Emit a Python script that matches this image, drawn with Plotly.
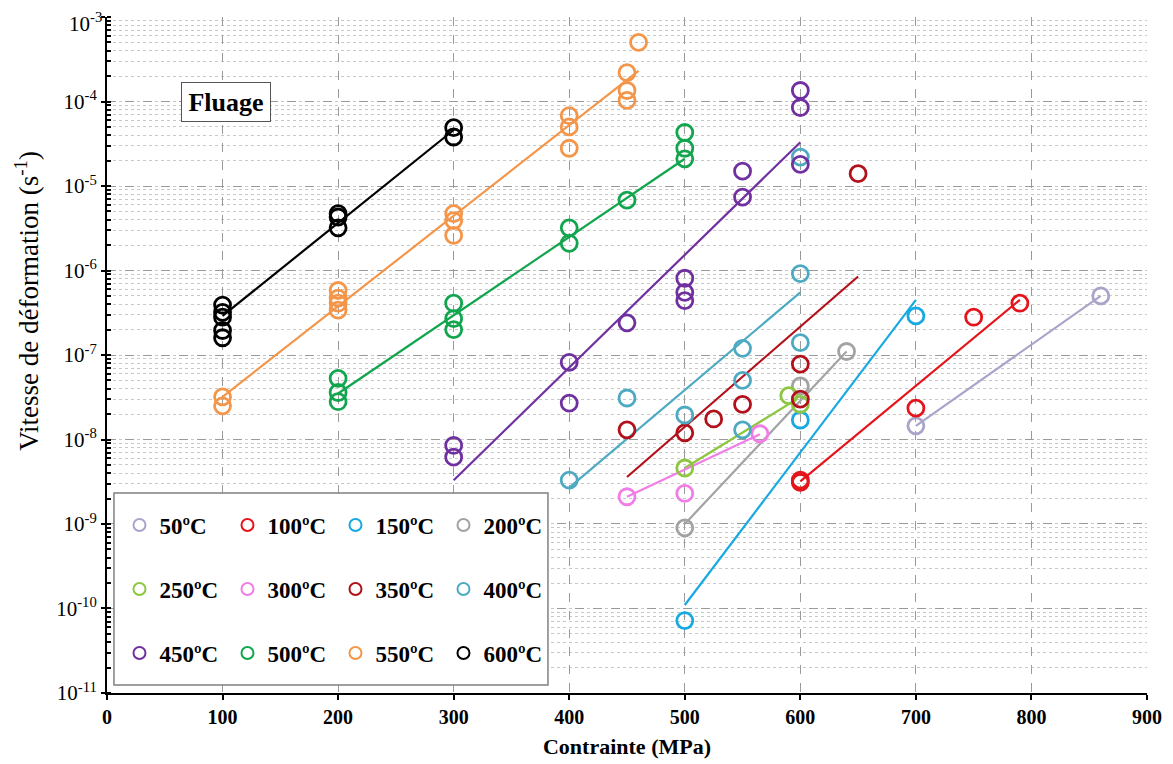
import plotly.graph_objects as go

# ---------------- data ----------------
temps = ["50ºC", "100ºC", "150ºC", "200ºC",
         "250ºC", "300ºC", "350ºC", "400ºC",
         "450ºC", "500ºC", "550ºC", "600ºC"]

colors = ["#ABA3C9", "#E5141B", "#17A9E1", "#A3A3A3",
          "#8DC63F", "#F07EE6", "#B2101A", "#4DAAC2",
          "#7030A0", "#11A54E", "#F4964A", "#000000"]

x_50 = [700, 860]
y_50 = [1.45e-8, 5.0e-7]
x_100 = [600, 600, 700, 750, 790]
y_100 = [3.3e-9, 3.1e-9, 2.35e-8, 2.8e-7, 4.1e-7]
x_150 = [500, 600, 700]
y_150 = [7.2e-11, 1.7e-8, 2.9e-7]
x_200 = [500, 600, 640]
y_200 = [9.0e-10, 4.3e-8, 1.1e-7]
x_250 = [500, 590, 600]
y_250 = [4.6e-9, 3.3e-8, 2.6e-8]
x_300 = [450, 500, 565]
y_300 = [2.1e-9, 2.3e-9, 1.17e-8]
x_350 = [450, 500, 525, 550, 600, 600, 650]
y_350 = [1.3e-8, 1.2e-8, 1.75e-8, 2.6e-8, 7.8e-8, 3.0e-8, 1.4e-5]
x_400 = [400, 450, 500, 550, 550, 550, 600, 600, 600]
y_400 = [3.3e-9, 3.1e-8, 1.95e-8, 1.2e-7, 5.0e-8, 1.3e-8, 9.2e-7, 1.4e-7, 2.2e-5]
x_450 = [300, 300, 400, 400, 450, 500, 500, 500, 550, 550, 600, 600, 600]
y_450 = [8.5e-9, 6.2e-9, 8.2e-8, 2.7e-8, 2.4e-7, 8.1e-7, 5.5e-7, 4.4e-7,
         1.5e-5, 7.4e-6, 1.35e-4, 8.5e-5, 1.8e-5]
x_500 = [200, 200, 200, 300, 300, 300, 400, 400, 450, 500, 500, 500]
y_500 = [5.3e-8, 3.6e-8, 2.8e-8, 4.1e-7, 2.7e-7, 2.0e-7, 3.2e-6, 2.1e-6,
         6.8e-6, 4.3e-5, 2.8e-5, 2.1e-5]
x_550 = [100, 100, 200, 200, 200, 200, 300, 300, 300, 400, 400, 400,
         450, 450, 450, 460]
y_550 = [3.2e-8, 2.5e-8, 5.8e-7, 4.7e-7, 4.1e-7, 3.4e-7, 4.7e-6, 3.9e-6,
         2.6e-6, 6.8e-5, 5.0e-5, 2.8e-5, 2.2e-4, 1.35e-4, 1.03e-4, 5.0e-4]
x_600 = [100, 100, 100, 100, 100, 200, 200, 200, 300, 300]
y_600 = [3.9e-7, 3.2e-7, 2.8e-7, 1.95e-7, 1.6e-7, 4.7e-6, 4.3e-6, 3.2e-6,
         4.9e-5, 3.8e-5]

# fitted lines (end points)
fit_x = [[700, 860], [600, 790], [500, 700], [500, 640],
         [500, 597], [450, 565], [450, 650], [400, 600],
         [300, 600], [200, 500], [100, 460], [100, 300]]
fit_y = [[1.45e-8, 5.0e-7], [3.2e-9, 4.5e-7], [1.1e-10, 4.5e-7], [1.0e-9, 1.1e-7],
         [4.6e-9, 3.0e-8], [2.1e-9, 1.15e-8], [3.6e-9, 8.5e-7], [2.7e-9, 5.5e-7],
         [3.3e-9, 3.3e-5], [3.5e-8, 2.1e-5], [3.2e-8, 2.3e-4], [2.9e-7, 4.6e-5]]

y_tick_exponents = [-11, -10, -9, -8, -7, -6, -5, -4, -3]

xs = [x_50, x_100, x_150, x_200, x_250, x_300, x_350, x_400, x_450, x_500, x_550, x_600]
ys = [y_50, y_100, y_150, y_200, y_250, y_300, y_350, y_400, y_450, y_500, y_550, y_600]

SERIF = "Liberation Serif"

fig = go.Figure()

# regression lines
for i in range(len(temps)):
    fig.add_trace(go.Scatter(
        x=fit_x[i], y=fit_y[i], mode="lines",
        line=dict(color=colors[i], width=2.2),
        showlegend=False, hoverinfo="skip"))

# data points
legend_ids = ["legend", "legend2", "legend3"]
for i in range(len(temps)):
    fig.add_trace(go.Scatter(
        x=xs[i], y=ys[i], mode="markers", name=temps[i],
        marker=dict(symbol="circle-open", size=16, color=colors[i],
                    line=dict(width=2.8, color=colors[i])),
        legend=legend_ids[i // 4]))

grid_major = "#9a9a9a"
grid_minor = "#c8c8c8"

fig.update_xaxes(
    range=[0, 900], dtick=100, tick0=0, automargin=False,
    showline=True, linecolor="black", linewidth=2,
    ticks="outside", ticklen=5, tickwidth=2, tickcolor="black",
    showgrid=True, gridcolor=grid_major, griddash="dash", gridwidth=1,
    zeroline=False,
    tickfont=dict(family=SERIF, size=20, color="black", weight="bold"),
    title=dict(text="Contrainte (MPa)", standoff=12,
               font=dict(family=SERIF, size=22, color="black", weight="bold")),
)

top_exp = y_tick_exponents[-1]
fig.update_yaxes(
    type="log", range=[-11.0002, -2.9998], automargin=False,
    tickmode="array", tickvals=[10.0 ** e for e in y_tick_exponents],
    # the top label is drawn as an annotation below so it is not cut by the page edge
    ticktext=["10<sup>%d</sup>" % e if e != top_exp else "" for e in y_tick_exponents],
    showline=True, linecolor="black", linewidth=2,
    ticks="outside", ticklen=4, tickwidth=2, tickcolor="black",
    showgrid=True, gridcolor=grid_major, griddash="dash", gridwidth=1,
    minor=dict(dtick="D1", ticks="inside", ticklen=4, tickcolor="black", tickwidth=1.5,
               showgrid=True, gridcolor=grid_minor, griddash="dot", gridwidth=1),
    zeroline=False,
    tickfont=dict(family=SERIF, size=21, color="black"),
)

fig.add_annotation(
    text="10<sup>%d</sup>" % top_exp, xref="paper", yref="y",
    x=0, y=top_exp, xanchor="right", yanchor="middle", xshift=-4, yshift=-5,
    showarrow=False, borderpad=0,
    font=dict(family=SERIF, size=21, color="black"))

legend_common = dict(orientation="h", xanchor="left", yanchor="middle",
                     bgcolor="rgba(0,0,0,0)", borderwidth=0,
                     entrywidth=63, entrywidthmode="pixels",
                     itemsizing="constant",
                     font=dict(family=SERIF, size=23, color="black", weight="bold"))
row_y = [0.2485, 0.1538, 0.0592]
fig.update_layout(
    legend=dict(x=0.012, y=row_y[0], **legend_common),
    legend2=dict(x=0.012, y=row_y[1], **legend_common),
    legend3=dict(x=0.012, y=row_y[2], **legend_common),
)

# legend frame
fig.add_shape(type="rect", xref="paper", yref="paper",
              x0=0.0067, x1=0.424, y0=0.0118, y1=0.296,
              line=dict(color="#808080", width=1.5), fillcolor="white", layer="above")

# y title
fig.add_annotation(
    text="Vitesse de déformation (s<sup>-1</sup>)", textangle=-90,
    xref="paper", yref="paper", x=-0.077, y=0.58, xanchor="center", yanchor="middle",
    showarrow=False,
    font=dict(family=SERIF, size=27, color="black"))

# Fluage label
fig.add_annotation(
    text="<b>Fluage</b>", xref="x", yref="y", x=103, y=-4, showarrow=False,
    font=dict(family=SERIF, size=26, color="black"),
    bordercolor="#555555", borderwidth=1, borderpad=4, bgcolor="white",
    width=80, height=30)

# page body has an 8px margin: shrink the figure so the plot area lands in place
fig.update_layout(
    width=1165, height=756,
    margin=dict(l=99, r=26, t=9, b=71),
    paper_bgcolor="white", plot_bgcolor="white",
)

fig.write_html("out.html")
